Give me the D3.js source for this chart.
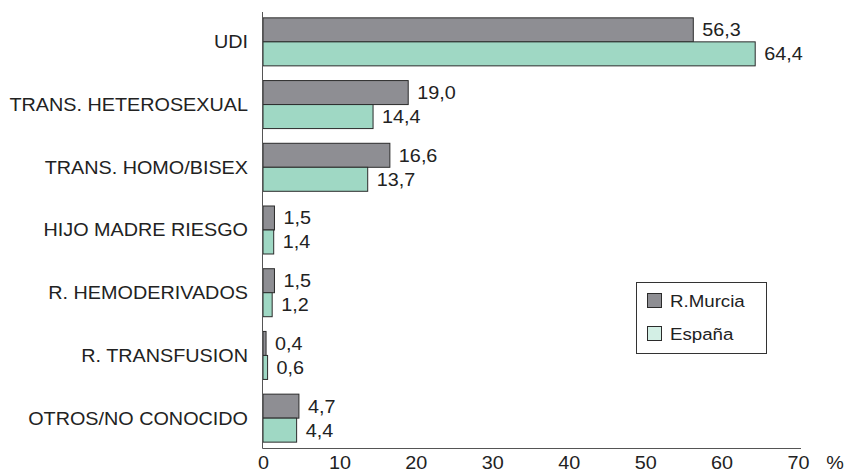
<!DOCTYPE html>
<html>
<head>
<meta charset="utf-8">
<script src="https://cdn.jsdelivr.net/npm/d3@7"></script>
<style>
  html, body { margin: 0; padding: 0; background: #fff; }
  svg { display: block; font-family: "Liberation Sans", Arial, sans-serif; }
</style>
</head>
<body>
<svg id="chart" width="851" height="473"></svg>
<script>
// Transmission categories and percentage of cases per region
const categories = [
  "UDI",
  "TRANS. HETEROSEXUAL",
  "TRANS. HOMO/BISEX",
  "HIJO MADRE RIESGO",
  "R. HEMODERIVADOS",
  "R. TRANSFUSION",
  "OTROS/NO CONOCIDO"
];
const murcia = [56.3, 19.0, 16.6, 1.5, 1.5, 0.4, 4.7];
const espana = [64.4, 14.4, 13.7, 1.4, 1.2, 0.6, 4.4];
const seriesNames = ["R.Murcia", "España"];
const xTicks = [0, 10, 20, 30, 40, 50, 60, 70];

const colors = ["#8e8e93", "#9fd8c4"];
const legendColors = ["#8e8e93", "#d3efe5"];

const svg = d3.select("#chart");
const x0 = 263, x1 = 798, axisY = 448.5;
const FS = 18, SX = 1.1;   // font size and horizontal stretch of the lettering

const x = d3.scaleLinear().domain([0, 70]).range([x0, x1]);
const y = d3.scaleBand().domain(categories).range([10.5, 449.5]).padding(0);
const barH = 24;

const fmt = v => v.toFixed(1).replace(".", ",");

// Places a text at (tx, ty) with the stretched lettering
function label(sel, tx, ty) {
  return sel.attr("transform", (d, i) => `translate(${tx(d, i)},${ty(d, i)}) scale(${SX},1)`);
}

const series = [murcia, espana];

// Bars and value labels
series.forEach((vals, si) => {
  const g = svg.append("g");
  g.selectAll("rect")
    .data(categories)
    .join("rect")
    .attr("x", x(0))
    .attr("y", d => y(d) + y.bandwidth() / 2 - barH + si * barH)
    .attr("width", (d, i) => x(vals[i]) - x(0))
    .attr("height", barH)
    .attr("fill", colors[si])
    .attr("stroke", "#2b2b2b")
    .attr("stroke-width", 1);

  g.selectAll("text")
    .data(categories)
    .join("text")
    .call(label, (d, i) => x(vals[i]) + 9,
                 d => y(d) + y.bandwidth() / 2 - barH / 2 + si * barH)
    .attr("dy", "0.36em")
    .attr("font-size", FS)
    .attr("fill", "#222")
    .text((d, i) => fmt(vals[i]));
});

// Category labels
svg.append("g").selectAll("text")
  .data(categories)
  .join("text")
  .call(label, () => 248, d => y(d) + y.bandwidth() / 2)
  .attr("dy", "0.36em")
  .attr("text-anchor", "end")
  .attr("font-size", FS)
  .attr("fill", "#222")
  .text(d => d);

// Vertical axis line
svg.append("line")
  .attr("x1", x0 - 0.5).attr("x2", x0 - 0.5)
  .attr("y1", 12).attr("y2", axisY)
  .attr("stroke", "#555").attr("stroke-width", 1);

// Horizontal axis
const xAxis = d3.axisBottom(x).tickValues(xTicks).tickSize(0).tickPadding(8);
const ax = svg.append("g")
  .attr("transform", `translate(0,${axisY})`)
  .call(xAxis);
ax.select(".domain")
  .attr("d", `M${x0 - 0.5},0H${x1 + 3}`)
  .attr("stroke", "#555");
ax.selectAll(".tick text")
  .attr("font-size", FS)
  .attr("font-family", "Liberation Sans, Arial, sans-serif")
  .attr("fill", "#222")
  .attr("transform", `scale(${SX},1)`);

svg.append("text")
  .call(label, () => 835, () => axisY + 8)
  .attr("dy", "0.71em")
  .attr("text-anchor", "middle")
  .attr("font-size", FS)
  .attr("fill", "#222")
  .text("%");

// Legend
const legend = svg.append("g");
legend.append("rect")
  .attr("x", 636.5).attr("y", 282.5)
  .attr("width", 130).attr("height", 71)
  .attr("fill", "#fff")
  .attr("stroke", "#333");
seriesNames.forEach((name, i) => {
  const ly = 301 + i * 33;
  legend.append("rect")
    .attr("x", 647.5).attr("y", ly - 7.5)
    .attr("width", 14).attr("height", 14)
    .attr("fill", legendColors[i])
    .attr("stroke", "#2b2b2b");
  legend.append("text")
    .attr("transform", `translate(670,${ly}) scale(${SX},1)`)
    .attr("dy", "0.36em")
    .attr("font-size", 17)
    .attr("fill", "#222")
    .text(name);
});
</script>
</body>
</html>
